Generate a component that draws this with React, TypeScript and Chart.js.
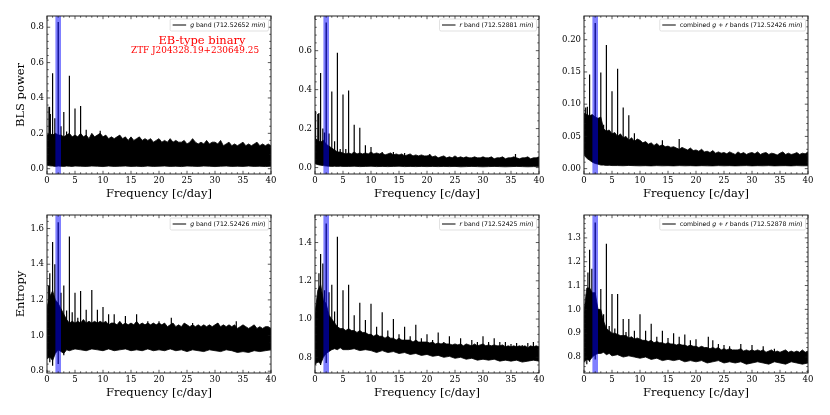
import { useEffect, useRef } from "react"
import { Chart, registerables } from "chart.js"

Chart.register(...registerables)

const serif = "'DejaVu Serif', serif"
const sans = "'DejaVu Sans', sans-serif"

// frequency grid of the upper envelope, one value per 0.5 c/day from 0 to 40
const upperFreqs = [
  0, 0.5, 1, 1.5, 2, 2.5, 3, 3.5, 4, 4.5, 5, 5.5, 6, 6.5, 7, 7.5, 8, 8.5, 9, 9.5,
  10, 10.5, 11, 11.5, 12, 12.5, 13, 13.5, 14, 14.5, 15, 15.5, 16, 16.5, 17, 17.5, 18, 18.5, 19, 19.5,
  20, 20.5, 21, 21.5, 22, 22.5, 23, 23.5, 24, 24.5, 25, 25.5, 26, 26.5, 27, 27.5, 28, 28.5, 29, 29.5,
  30, 30.5, 31, 31.5, 32, 32.5, 33, 33.5, 34, 34.5, 35, 35.5, 36, 36.5, 37, 37.5, 38, 38.5, 39, 39.5, 40,
]
const lowerFreqs = [
  0, 0.5, 1, 1.5, 2, 2.5, 3, 3.5, 4, 4.5, 5,
  6, 7, 8, 9, 10, 11, 12, 13, 14, 15, 16, 17, 18, 19, 20, 21, 22, 23,
  24, 25, 26, 27, 28, 29, 30, 31, 32, 33, 34, 35, 36, 37, 38, 39, 40,
]

// BLS power, g band
const gPowerUpper = [
  0.19, 0.2, 0.19, 0.2, 0.19, 0.19, 0.18, 0.19, 0.2, 0.18, 0.19, 0.18, 0.2, 0.18, 0.19, 0.17, 0.2, 0.18, 0.19, 0.2,
  0.18, 0.19, 0.17, 0.18, 0.17, 0.18, 0.19, 0.17, 0.18, 0.16, 0.18, 0.16, 0.17, 0.18, 0.16, 0.17, 0.16, 0.17, 0.15, 0.16,
  0.17, 0.15, 0.16, 0.15, 0.17, 0.15, 0.16, 0.15, 0.15, 0.16, 0.14, 0.15, 0.17, 0.15, 0.14, 0.15, 0.14, 0.16, 0.14, 0.15,
  0.15, 0.14, 0.16, 0.13, 0.14, 0.15, 0.13, 0.14, 0.13, 0.14, 0.15, 0.13, 0.14, 0.13, 0.14, 0.15, 0.13, 0.14, 0.13, 0.14, 0.13,
]
const gPowerLower = [
  0.02, 0.016, 0.015, 0.013, 0.015, 0.014, 0.013, 0.015, 0.014, 0.013, 0.015,
  0.014, 0.013, 0.015, 0.014, 0.012, 0.015, 0.013, 0.014, 0.015, 0.013, 0.014, 0.012, 0.015, 0.013, 0.014, 0.015, 0.013,
  0.014, 0.012, 0.015, 0.014, 0.013, 0.015, 0.014, 0.012, 0.014, 0.015, 0.013, 0.014, 0.013, 0.015, 0.013, 0.014, 0.012, 0.014,
]
const gPowerSpikeFreqs = [0.35, 0.45, 0.6, 1, 1.4, 2, 2.5, 3, 3.5, 4, 5, 6, 7, 9.5]
const gPowerSpikeTops = [0.35, 0.35, 0.31, 0.54, 0.285, 0.83, 0.24, 0.32, 0.21, 0.525, 0.34, 0.355, 0.22, 0.215]

// BLS power, r band
const rPowerUpper = [
  0.15, 0.14, 0.13, 0.14, 0.12, 0.11, 0.1, 0.09, 0.08, 0.08, 0.075, 0.07, 0.075, 0.07, 0.08, 0.07, 0.075, 0.07, 0.075, 0.07,
  0.08, 0.07, 0.075, 0.07, 0.075, 0.065, 0.07, 0.075, 0.065, 0.07, 0.065, 0.07, 0.06, 0.065, 0.07, 0.06, 0.065, 0.06, 0.065, 0.06,
  0.06, 0.065, 0.055, 0.06, 0.05, 0.055, 0.06, 0.05, 0.055, 0.05, 0.06, 0.05, 0.055, 0.05, 0.055, 0.05, 0.05, 0.055, 0.05, 0.05,
  0.055, 0.05, 0.05, 0.055, 0.045, 0.05, 0.05, 0.055, 0.045, 0.05, 0.05, 0.055, 0.05, 0.045, 0.05, 0.05, 0.055, 0.045, 0.05, 0.05, 0.055,
]
const rPowerLower = [
  0.02, 0.015, 0.012, 0.01, 0.008, 0.007, 0.006, 0.007, 0.006, 0.007, 0.006,
  0.006, 0.007, 0.005, 0.006, 0.007, 0.005, 0.006, 0.005, 0.006, 0.007, 0.005, 0.006, 0.005, 0.006, 0.005, 0.006, 0.005,
  0.006, 0.005, 0.006, 0.004, 0.005, 0.006, 0.005, 0.004, 0.005, 0.006, 0.005, 0.004, 0.005, 0.006, 0.005, 0.004, 0.005, 0.005,
]
const rPowerSpikeFreqs = [0.1, 0.5, 0.7, 1, 1.4, 1.7, 2, 2.5, 3, 3.5, 4, 4.5, 5, 5.5, 6, 7, 8, 9, 10, 12, 14, 16, 20.5, 35.8]
const rPowerSpikeTops = [0.29, 0.275, 0.28, 0.485, 0.2, 0.18, 0.745, 0.175, 0.39, 0.135, 0.59, 0.095, 0.375, 0.095, 0.395, 0.22, 0.205, 0.115, 0.105, 0.08, 0.08, 0.075, 0.07, 0.07]

// BLS power, combined bands
const bothPowerUpper = [
  0.086, 0.084, 0.082, 0.084, 0.08, 0.078, 0.08, 0.062, 0.058, 0.06, 0.054, 0.056, 0.05, 0.054, 0.048, 0.05, 0.044, 0.048, 0.042, 0.046,
  0.044, 0.04, 0.042, 0.038, 0.04, 0.036, 0.039, 0.035, 0.037, 0.034, 0.035, 0.033, 0.034, 0.032, 0.03, 0.033, 0.031, 0.029, 0.032, 0.028,
  0.029, 0.027, 0.03, 0.026, 0.027, 0.025, 0.028, 0.024, 0.026, 0.024, 0.025, 0.023, 0.026, 0.024, 0.022, 0.026, 0.023, 0.025, 0.022, 0.024,
  0.025, 0.023, 0.026, 0.022, 0.024, 0.025, 0.022, 0.024, 0.023, 0.021, 0.024, 0.026, 0.022, 0.024, 0.022, 0.023, 0.025, 0.022, 0.024, 0.023, 0.026,
]
const bothPowerLower = [
  0.022, 0.016, 0.013, 0.01, 0.008, 0.007, 0.0055, 0.0055, 0.005, 0.0052, 0.0048,
  0.0048, 0.0045, 0.005, 0.0046, 0.0044, 0.0046, 0.0043, 0.0047, 0.0044, 0.0046, 0.0043, 0.0047, 0.0044, 0.0046, 0.0043, 0.0046, 0.0044,
  0.0043, 0.0047, 0.0044, 0.0046, 0.0043, 0.0045, 0.0047, 0.0043, 0.0046, 0.0044, 0.0047, 0.0043, 0.0045, 0.0046, 0.0043, 0.0047, 0.0044, 0.0045,
]
const bothPowerSpikeFreqs = [0.3, 0.6, 1, 2, 3, 3.5, 4, 5, 6, 7, 8, 9, 14, 17]
const bothPowerSpikeTops = [0.095, 0.096, 0.146, 0.226, 0.149, 0.068, 0.192, 0.12, 0.155, 0.095, 0.083, 0.055, 0.044, 0.046]

// Entropy, g band
const gEntropyUpper = [
  1.16, 1.22, 1.25, 1.2, 1.18, 1.15, 1.12, 1.09, 1.07, 1.08, 1.07, 1.08, 1.07, 1.09, 1.07, 1.08, 1.07, 1.08, 1.07, 1.08,
  1.07, 1.08, 1.06, 1.07, 1.07, 1.06, 1.08, 1.06, 1.07, 1.06, 1.07, 1.06, 1.08, 1.06, 1.07, 1.06, 1.07, 1.06, 1.07, 1.06,
  1.07, 1.06, 1.07, 1.05, 1.06, 1.07, 1.05, 1.06, 1.05, 1.07, 1.06, 1.05, 1.06, 1.05, 1.06, 1.05, 1.06, 1.05, 1.06, 1.05,
  1.06, 1.07, 1.05, 1.06, 1.05, 1.06, 1.05, 1.06, 1.04, 1.05, 1.06, 1.05, 1.04, 1.05, 1.06, 1.04, 1.05, 1.04, 1.05, 1.05, 1.04,
]
const gEntropyLower = [
  0.87, 0.88, 0.86, 0.9, 0.92, 0.91, 0.9, 0.92, 0.915, 0.92, 0.925,
  0.92, 0.915, 0.925, 0.92, 0.915, 0.925, 0.915, 0.92, 0.925, 0.915, 0.92, 0.915, 0.925, 0.915, 0.92, 0.915, 0.925,
  0.915, 0.92, 0.91, 0.92, 0.915, 0.91, 0.92, 0.915, 0.91, 0.92, 0.915, 0.905, 0.91, 0.905, 0.915, 0.91, 0.915, 0.92,
]
const gEntropySpikeFreqs = [0.3, 0.5, 1, 1.4, 2, 2.5, 3, 3.5, 4, 4.5, 5, 5.5, 6, 7, 8, 9, 10, 11, 12, 14, 16, 18, 20, 22.2, 26, 30.5, 33.8]
const gEntropySpikeTops = [1.28, 1.35, 1.525, 1.4, 1.635, 1.24, 1.28, 1.14, 1.555, 1.13, 1.24, 1.1, 1.25, 1.145, 1.255, 1.145, 1.16, 1.12, 1.12, 1.11, 1.12, 1.08, 1.08, 1.1, 1.07, 1.07, 1.08]
const gEntropyDipFreqs = [0.5, 1, 2, 3]
const gEntropyDips = [0.85, 0.83, 0.84, 0.89]

// Entropy, r band
const rEntropyUpper = [
  1.03, 1.15, 1.18, 1.1, 1.08, 1.02, 1.0, 0.98, 0.96, 0.95, 0.95, 0.94, 0.95, 0.94, 0.94, 0.93, 0.94, 0.93, 0.93, 0.92,
  0.92, 0.91, 0.92, 0.91, 0.91, 0.9, 0.91, 0.9, 0.9, 0.89, 0.9, 0.89, 0.89, 0.89, 0.89, 0.88, 0.89, 0.88, 0.88, 0.88,
  0.88, 0.875, 0.88, 0.87, 0.875, 0.87, 0.875, 0.87, 0.87, 0.865, 0.87, 0.865, 0.87, 0.86, 0.87, 0.865, 0.86, 0.87, 0.86, 0.865,
  0.87, 0.86, 0.865, 0.86, 0.865, 0.86, 0.86, 0.865, 0.855, 0.86, 0.855, 0.86, 0.855, 0.86, 0.855, 0.86, 0.85, 0.86, 0.855, 0.86, 0.855,
]
const rEntropyLower = [
  0.76, 0.78, 0.765, 0.8, 0.82, 0.83, 0.84, 0.845, 0.84, 0.85, 0.84,
  0.84, 0.845, 0.835, 0.84, 0.835, 0.825, 0.835, 0.825, 0.83, 0.82, 0.825, 0.815, 0.82, 0.81, 0.815, 0.805, 0.81,
  0.8, 0.805, 0.795, 0.8, 0.79, 0.795, 0.785, 0.79, 0.785, 0.79, 0.78, 0.785, 0.78, 0.785, 0.775, 0.78, 0.785, 0.78,
]
const rEntropySpikeFreqs = [0.3, 0.7, 1, 1.4, 1.7, 2, 2.5, 3, 3.5, 4, 5, 6, 7, 8, 9, 10, 11, 12, 13, 14, 15, 16, 17, 18, 19, 20, 21, 22, 23, 24, 26, 28, 29, 30, 31, 32, 33, 34, 35, 36, 37, 38, 39]
const rEntropySpikeTops = [1.03, 1.24, 1.34, 1.29, 1.15, 1.5, 1.14, 1.18, 1.04, 1.43, 1.15, 1.18, 1.02, 1.085, 0.995, 1.08, 0.96, 1.035, 0.94, 1.0, 0.92, 0.96, 0.91, 0.97, 0.9, 0.92, 0.89, 0.93, 0.88, 0.91, 0.9, 0.89, 0.88, 0.91, 0.88, 0.9, 0.88, 0.88, 0.87, 0.875, 0.865, 0.875, 0.88]
const rEntropyDipFreqs = [0.5, 1, 2]
const rEntropyDips = [0.77, 0.76, 0.77]

// Entropy, combined bands
const bothEntropyUpper = [
  0.99, 1.09, 1.09, 1.07, 1.07, 1.0, 1.0, 0.95, 0.92, 0.91, 0.9, 0.9, 0.895, 0.89, 0.89, 0.89, 0.88, 0.885, 0.875, 0.88,
  0.875, 0.87, 0.87, 0.865, 0.87, 0.86, 0.865, 0.86, 0.86, 0.855, 0.86, 0.855, 0.855, 0.85, 0.855, 0.85, 0.85, 0.845, 0.85, 0.845,
  0.845, 0.84, 0.845, 0.84, 0.84, 0.835, 0.84, 0.835, 0.84, 0.83, 0.835, 0.83, 0.835, 0.83, 0.83, 0.83, 0.835, 0.825, 0.83, 0.825,
  0.83, 0.825, 0.83, 0.825, 0.83, 0.82, 0.825, 0.83, 0.82, 0.825, 0.82, 0.825, 0.83, 0.82, 0.825, 0.82, 0.825, 0.82, 0.83, 0.82, 0.825,
]
const bothEntropyLower = [
  0.78, 0.79, 0.785, 0.8, 0.81, 0.815, 0.815, 0.82, 0.81, 0.815, 0.805,
  0.81, 0.8, 0.805, 0.8, 0.795, 0.8, 0.79, 0.795, 0.785, 0.79, 0.785, 0.79, 0.78, 0.785, 0.78, 0.785, 0.775,
  0.78, 0.785, 0.775, 0.78, 0.775, 0.78, 0.77, 0.775, 0.78, 0.775, 0.77, 0.78, 0.775, 0.77, 0.78, 0.775, 0.77, 0.775,
]
const bothEntropySpikeFreqs = [0.3, 0.7, 1, 1.4, 2, 2.5, 3, 3.5, 4, 4.5, 5, 5.5, 6, 7, 7.5, 8, 9, 10, 11, 12, 13, 14, 15, 16, 17, 18, 19, 20, 22.2, 23, 24, 25, 26, 28, 30, 32, 34]
const bothEntropySpikeTops = [1.0, 1.155, 1.25, 1.17, 1.365, 1.0, 1.085, 0.98, 1.275, 0.93, 1.065, 0.92, 1.065, 0.96, 0.905, 0.96, 0.91, 0.98, 0.91, 0.94, 0.885, 0.91, 0.88, 0.9, 0.885, 0.895, 0.87, 0.875, 0.885, 0.87, 0.855, 0.85, 0.845, 0.855, 0.85, 0.845, 0.835]
const bothEntropyDipFreqs = [0.5, 1, 2]
const bothEntropyDips = [0.77, 0.78, 0.79]

// the highlighted frequency window, c/day
const windowStart = 1.5
const windowEnd = 2.5

const xTicksStep = 5
const xMinorStep = 1

interface PanelProps {
  left: number
  top: number
  upper: number[]
  lower: number[]
  spikeFreqs: number[]
  spikeTops: number[]
  spikeBase: number
  dipFreqs?: number[]
  dips?: number[]
  yMin: number
  yMax: number
  yStep: number
  yDecimals: number
  yTitle?: string
  legendBand: string
  legendPeriod: string
  note?: boolean
}

const marginLeft = 42
const marginTop = 10
const marginRight = 16
const marginBottom = 32
const plotWidth = 224
const plotHeight = 158

function drawLegend(ctx: CanvasRenderingContext2D, area: any, band: string, period: string) {
  // band text like "combined g + r bands": g and r are italic
  const parts: { t: string; it: boolean }[] = []
  band.split(/\b([gr])\b/).forEach((p, i) => {
    if (p) parts.push({ t: p, it: i % 2 === 1 })
  })
  parts.push({ t: " (" + period + " ", it: false })
  parts.push({ t: "min", it: true })
  parts.push({ t: ")", it: false })
  const fontOf = (it: boolean) => (it ? "italic " : "") + "6.2px " + sans
  let textWidth = 0
  parts.forEach((p) => {
    ctx.font = fontOf(p.it)
    textWidth += ctx.measureText(p.t).width
  })
  const boxW = textWidth + 23
  const boxH = 12
  const x = area.right - 2.5 - boxW
  const y = area.top + 3
  ctx.save()
  ctx.beginPath()
  ctx.roundRect(x, y, boxW, boxH, 1.5)
  ctx.fillStyle = "rgba(255,255,255,0.8)"
  ctx.fill()
  ctx.strokeStyle = "#cccccc"
  ctx.lineWidth = 0.6
  ctx.stroke()
  ctx.beginPath()
  ctx.moveTo(x + 2.5, y + 6)
  ctx.lineTo(x + 16, y + 6)
  ctx.strokeStyle = "#000"
  ctx.lineWidth = 1
  ctx.stroke()
  ctx.fillStyle = "#000"
  ctx.textBaseline = "middle"
  ctx.textAlign = "left"
  let cx = x + 20
  parts.forEach((p) => {
    ctx.font = fontOf(p.it)
    ctx.fillText(p.t, cx, y + 6)
    cx += ctx.measureText(p.t).width
  })
  ctx.restore()
}

// blue window over the data, then the matplotlib style frame with inward ticks on all sides
const framePlugin = {
  id: "frame",
  afterDatasetsDraw(chart: any, _args: any, opts: any) {
    const { ctx, chartArea: a, scales } = chart
    ctx.save()
    const x0 = scales.x.getPixelForValue(windowStart)
    const x1 = scales.x.getPixelForValue(windowEnd)
    ctx.fillStyle = "rgba(0,0,255,0.5)"
    ctx.fillRect(x0, a.top, x1 - x0, a.bottom - a.top)

    ctx.strokeStyle = "#111"
    ctx.lineWidth = 0.7
    const tick = (px: number, len: number, horizontal: boolean) => {
      ctx.beginPath()
      if (horizontal) {
        ctx.moveTo(px, a.bottom)
        ctx.lineTo(px, a.bottom - len)
        ctx.moveTo(px, a.top)
        ctx.lineTo(px, a.top + len)
      } else {
        ctx.moveTo(a.left, px)
        ctx.lineTo(a.left + len, px)
        ctx.moveTo(a.right, px)
        ctx.lineTo(a.right - len, px)
      }
      ctx.stroke()
    }
    for (let v = 0; v <= 40; v += xMinorStep) {
      tick(scales.x.getPixelForValue(v), v % xTicksStep === 0 ? 3.2 : 1.7, true)
    }
    const yMinor = opts.yStep / 5
    const first = Math.ceil(opts.yMin / yMinor - 1e-6)
    for (let i = first; i * yMinor <= opts.yMax; i++) {
      tick(scales.y.getPixelForValue(i * yMinor), i % 5 === 0 ? 3.2 : 1.7, false)
    }
    ctx.lineWidth = 1
    ctx.strokeStyle = "#222"
    ctx.strokeRect(a.left, a.top, a.right - a.left, a.bottom - a.top)
    ctx.restore()

    drawLegend(ctx, a, opts.legendBand, opts.legendPeriod)

    if (opts.note) {
      ctx.save()
      ctx.fillStyle = "#ff0000"
      ctx.textAlign = "center"
      ctx.textBaseline = "middle"
      ctx.font = "11.5px " + serif
      ctx.fillText("EB-type binary", a.left + 155, a.top + 25)
      ctx.font = "8.9px " + serif
      ctx.fillText("ZTF J204328.19+230649.25", a.left + 148, a.top + 35)
      ctx.restore()
    }
  },
}

function Panel(props: PanelProps) {
  const chartRef = useRef<HTMLCanvasElement>(null)

  useEffect(() => {
    if (!chartRef.current) return
    const spikePoints: { x: number; y: number }[] = []
    props.spikeFreqs.forEach((f, i) => {
      spikePoints.push({ x: f, y: props.spikeBase }, { x: f, y: props.spikeTops[i] }, { x: f, y: NaN })
    })
    ;(props.dipFreqs || []).forEach((f, i) => {
      spikePoints.push({ x: f, y: props.spikeBase }, { x: f, y: props.dips![i] }, { x: f, y: NaN })
    })

    const chart = new Chart(chartRef.current, {
      type: "line",
      data: {
        datasets: [
          {
            data: upperFreqs.map((f, i) => ({ x: f, y: props.upper[i] })),
            borderColor: "#000",
            borderWidth: 0.8,
            backgroundColor: "#000",
            pointRadius: 0,
            fill: "+1",
            tension: 0,
          },
          {
            data: lowerFreqs.map((f, i) => ({ x: f, y: props.lower[i] })),
            borderColor: "#000",
            borderWidth: 0.8,
            pointRadius: 0,
            fill: false,
            tension: 0,
          },
          {
            data: spikePoints,
            borderColor: "#000",
            borderWidth: 1.2,
            pointRadius: 0,
            fill: false,
            spanGaps: false,
            tension: 0,
          },
        ],
      },
      options: {
        animation: false,
        responsive: false,
        parsing: false,
        normalized: false,
        layout: { padding: { top: marginTop, right: marginRight, left: 0, bottom: 0 } },
        plugins: {
          legend: { display: false },
          tooltip: { enabled: false },
          frame: {
            yMin: props.yMin,
            yMax: props.yMax,
            yStep: props.yStep,
            legendBand: props.legendBand,
            legendPeriod: props.legendPeriod,
            note: props.note,
          },
        } as any,
        scales: {
          x: {
            type: "linear",
            min: 0,
            max: 40,
            grid: { display: false, drawTicks: false },
            border: { display: false },
            afterFit: (s: any) => {
              s.height = marginBottom
            },
            ticks: {
              stepSize: xTicksStep,
              maxRotation: 0,
              autoSkip: false,
              includeBounds: false,
              padding: 2,
              color: "#000",
              font: { family: serif, size: 8.5 },
            },
            title: {
              display: true,
              text: "Frequency [c/day]",
              color: "#000",
              font: { family: serif, size: 11.5 },
              padding: { top: 0, bottom: 5 },
            },
          },
          y: {
            type: "linear",
            min: props.yMin,
            max: props.yMax,
            grid: { display: false, drawTicks: false },
            border: { display: false },
            afterFit: (s: any) => {
              s.width = marginLeft
            },
            ticks: {
              stepSize: props.yStep,
              includeBounds: false,
              padding: 3,
              color: "#000",
              font: { family: serif, size: 8.5 },
              callback: (v: any) => Number(v).toFixed(props.yDecimals),
            },
            title: {
              display: !!props.yTitle,
              text: props.yTitle || "",
              color: "#000",
              font: { family: serif, size: 11.5 },
              padding: { top: 9, bottom: 0 },
            },
          },
        },
      },
      plugins: [framePlugin],
    } as any)

    return () => {
      chart.destroy()
    }
  }, [])

  return (
    <canvas
      ref={chartRef}
      width={marginLeft + plotWidth + marginRight}
      height={marginTop + plotHeight + marginBottom}
      style={{ position: "absolute", left: props.left - marginLeft, top: props.top - marginTop }}
    />
  )
}

export default function App() {
  return (
    <div style={{ position: "fixed", left: 0, top: 0, width: 830, height: 415, background: "#fff", overflow: "hidden" }}>
      <Panel left={47} top={16} upper={gPowerUpper} lower={gPowerLower} spikeFreqs={gPowerSpikeFreqs} spikeTops={gPowerSpikeTops} spikeBase={0.1}
        yMin={-0.03} yMax={0.8635} yStep={0.2} yDecimals={1} yTitle="BLS power" legendBand="g band" legendPeriod="712.52652" note />
      <Panel left={315} top={16} upper={rPowerUpper} lower={rPowerLower} spikeFreqs={rPowerSpikeFreqs} spikeTops={rPowerSpikeTops} spikeBase={0.03}
        yMin={-0.033} yMax={0.778} yStep={0.2} yDecimals={1} legendBand="r band" legendPeriod="712.52881" />
      <Panel left={584} top={16} upper={bothPowerUpper} lower={bothPowerLower} spikeFreqs={bothPowerSpikeFreqs} spikeTops={bothPowerSpikeTops} spikeBase={0.02}
        yMin={-0.0083} yMax={0.2368} yStep={0.05} yDecimals={2} legendBand="combined g + r bands" legendPeriod="712.52426" />
      <Panel left={47} top={215} upper={gEntropyUpper} lower={gEntropyLower} spikeFreqs={gEntropySpikeFreqs} spikeTops={gEntropySpikeTops} spikeBase={1} dipFreqs={gEntropyDipFreqs} dips={gEntropyDips}
        yMin={0.79} yMax={1.676} yStep={0.2} yDecimals={1} yTitle="Entropy" legendBand="g band" legendPeriod="712.52426" />
      <Panel left={315} top={215} upper={rEntropyUpper} lower={rEntropyLower} spikeFreqs={rEntropySpikeFreqs} spikeTops={rEntropySpikeTops} spikeBase={0.85} dipFreqs={rEntropyDipFreqs} dips={rEntropyDips}
        yMin={0.718} yMax={1.544} yStep={0.2} yDecimals={1} legendBand="r band" legendPeriod="712.52425" />
      <Panel left={584} top={215} upper={bothEntropyUpper} lower={bothEntropyLower} spikeFreqs={bothEntropySpikeFreqs} spikeTops={bothEntropySpikeTops} spikeBase={0.82} dipFreqs={bothEntropyDipFreqs} dips={bothEntropyDips}
        yMin={0.733} yMax={1.396} yStep={0.1} yDecimals={1} legendBand="combined g + r bands" legendPeriod="712.52878" />
    </div>
  )
}
